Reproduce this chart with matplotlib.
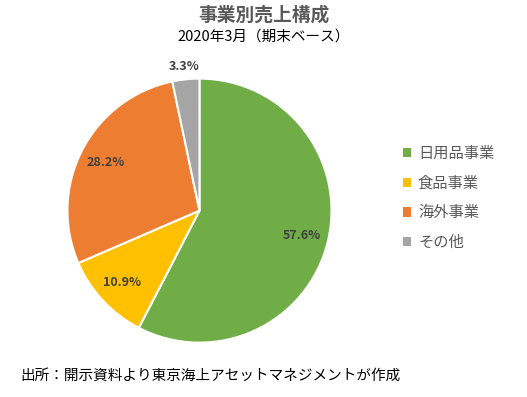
import matplotlib.pyplot as plt
from matplotlib.patches import Patch
import numpy as np

plt.rcParams['font.family'] = ['Noto Sans CJK JP', 'DejaVu Sans']

# data
segments = ['日用品事業', '食品事業', '海外事業', 'その他']
shares = [57.6, 10.9, 28.2, 3.3]
colors = ['#70AD47', '#FFC000', '#ED7D31', '#A5A5A5']
label_dist = [0.8, 0.8, 0.8, 1.1]

fig = plt.figure(figsize=(5.27, 3.97), dpi=100)
ax = fig.add_axes([0.128, 0.137, 0.501, 0.665])

wedges, _ = ax.pie(shares, colors=colors, startangle=90, counterclock=False,
                   wedgeprops=dict(edgecolor='white', linewidth=1.5))
ax.set_xlim(-1, 1)
ax.set_ylim(-1, 1)
ax.set_aspect('equal')

# percent labels at wedge mid angles
for w, s, d in zip(wedges, shares, label_dist):
    mid = np.deg2rad((w.theta1 + w.theta2) / 2)
    ax.text(d * np.cos(mid), d * np.sin(mid), f'{s:.1f}%', ha='center', va='center',
            fontsize=9, fontweight='bold', color='#404040')

fig.text(0.5, 0.962, '事業別売上構成', ha='center', va='center', fontsize=13.5,
         fontweight='bold', color='#595959')
fig.text(0.5, 0.908, '2020年3月（期末ベース）', ha='center', va='center', fontsize=10.5, color='black')

handles = [Patch(facecolor=c, edgecolor='none') for c in colors]
fig.legend(handles, segments, loc='center left', bbox_to_anchor=(0.738, 0.501),
           frameon=False, fontsize=11, labelcolor='#595959', handlelength=0.55,
           handleheight=0.55, handletextpad=0.45, labelspacing=0.83)

fig.text(0.038, 0.053, '出所：開示資料より東京海上アセットマネジメントが作成', ha='left', va='center',
         fontsize=10.5, color='black')

fig.savefig('out.png', dpi=100)
